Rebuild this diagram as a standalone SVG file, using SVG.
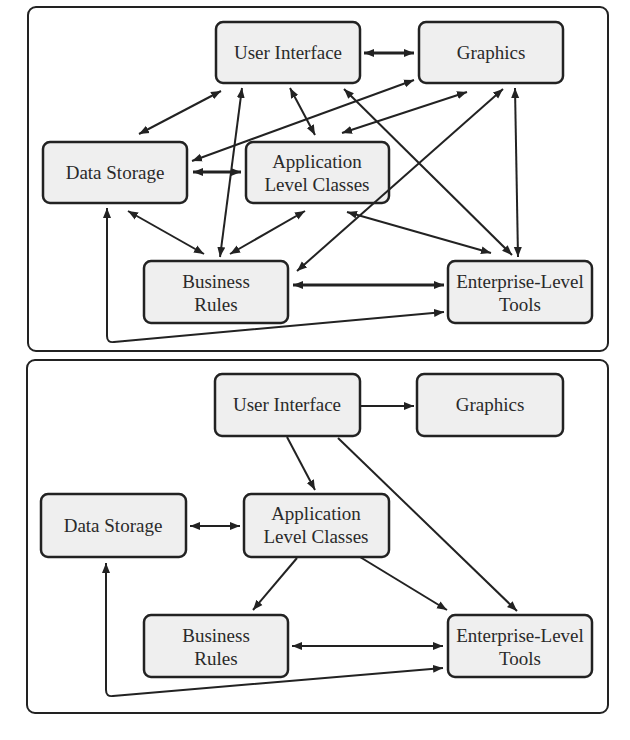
<svg xmlns="http://www.w3.org/2000/svg" width="630" height="740" viewBox="0 0 630 740">
<style>
.panel{fill:#fff;stroke:#222;stroke-width:2}
.node rect{fill:#efefef;stroke:#222;stroke-width:2.5}
.node text{font-family:"Liberation Serif","Times New Roman",serif;font-size:19px;fill:#2a2a2a;text-anchor:middle}
.c{fill:none;stroke:#222;stroke-width:2}
.t{stroke-width:3}
</style>
<defs>
<marker id="ah" markerUnits="userSpaceOnUse" markerWidth="11" markerHeight="9" refX="10" refY="4" orient="auto-start-reverse" viewBox="0 0 11 8">
<path d="M0,0 L10,4 L0,8 z" fill="#222"/>
</marker>
</defs>
<rect class="panel" x="28" y="7" width="580" height="344" rx="8"/>
<rect class="panel" x="27" y="360" width="581" height="353" rx="8"/>

<g id="top-ui" class="node"><rect x="216" y="22" width="144" height="61" rx="7"/><text x="288" y="59">User Interface</text></g>
<g id="top-graphics" class="node"><rect x="419" y="22" width="144" height="61" rx="7"/><text x="491" y="59">Graphics</text></g>
<g id="top-ds" class="node"><rect x="43" y="142" width="144" height="61" rx="7"/><text x="115" y="179">Data Storage</text></g>
<g id="top-app" class="node"><rect x="246" y="142" width="143" height="61" rx="7"/><text x="317" y="168">Application</text><text x="317" y="191">Level Classes</text></g>
<g id="top-br" class="node"><rect x="144" y="261" width="144" height="62" rx="7"/><text x="216" y="288">Business</text><text x="216" y="311">Rules</text></g>
<g id="top-elt" class="node"><rect x="448" y="261" width="144" height="62" rx="7"/><text x="520" y="288">Enterprise-Level</text><text x="520" y="311">Tools</text></g>

<g id="bot-ui" class="node"><rect x="215" y="374" width="145" height="62" rx="7"/><text x="287" y="411">User Interface</text></g>
<g id="bot-graphics" class="node"><rect x="417" y="374" width="146" height="62" rx="7"/><text x="490" y="411">Graphics</text></g>
<g id="bot-ds" class="node"><rect x="41" y="494" width="145" height="63" rx="7"/><text x="113" y="532">Data Storage</text></g>
<g id="bot-app" class="node"><rect x="244" y="494" width="145" height="63" rx="7"/><text x="316" y="520">Application</text><text x="316" y="543">Level Classes</text></g>
<g id="bot-br" class="node"><rect x="144" y="615" width="144" height="62" rx="7"/><text x="216" y="642">Business</text><text x="216" y="665">Rules</text></g>
<g id="bot-elt" class="node"><rect x="448" y="615" width="144" height="62" rx="7"/><text x="520" y="642">Enterprise-Level</text><text x="520" y="665">Tools</text></g>

<g id="connectors">
<path class="c t" marker-start="url(#ah)" marker-end="url(#ah)" d="M364,53 L414,53"/>
<path class="c" marker-start="url(#ah)" marker-end="url(#ah)" d="M221,91 L139,134"/>
<path class="c t" marker-start="url(#ah)" marker-end="url(#ah)" d="M193,172 L241,172"/>
<path class="c" marker-start="url(#ah)" marker-end="url(#ah)" d="M414,80 L192,161"/>
<path class="c" marker-start="url(#ah)" marker-end="url(#ah)" d="M467,92 L342,133"/>
<path class="c" marker-start="url(#ah)" marker-end="url(#ah)" d="M290,88 L315,135"/>
<path class="c" marker-start="url(#ah)" marker-end="url(#ah)" d="M242,88 L220,257"/>
<path class="c" marker-start="url(#ah)" marker-end="url(#ah)" d="M128,211 L204,254"/>
<path class="c" marker-start="url(#ah)" marker-end="url(#ah)" d="M305,211 L230,254"/>
<path class="c" marker-start="url(#ah)" marker-end="url(#ah)" d="M503,89 L297,271"/>
<path class="c" marker-start="url(#ah)" marker-end="url(#ah)" d="M344,89 L512,255"/>
<path class="c" marker-start="url(#ah)" marker-end="url(#ah)" d="M515,88 L518,257"/>
<path class="c" marker-start="url(#ah)" marker-end="url(#ah)" d="M347,212 L491,253"/>
<path class="c t" marker-start="url(#ah)" marker-end="url(#ah)" d="M293,285 L444,285"/>
<path class="c" marker-start="url(#ah)" marker-end="url(#ah)" d="M107,208 L107,336 Q107,343 114,342 L444,312"/>

<path class="c" marker-end="url(#ah)" d="M360,406 L414,406"/>
<path class="c" marker-end="url(#ah)" d="M287,437 L315,490"/>
<path class="c" marker-end="url(#ah)" d="M338,438 L517,611"/>
<path class="c" marker-start="url(#ah)" marker-end="url(#ah)" d="M190,526 L240,526"/>
<path class="c" marker-end="url(#ah)" d="M297,558 L253,610"/>
<path class="c" marker-end="url(#ah)" d="M360,557 L447,610"/>
<path class="c" marker-start="url(#ah)" marker-end="url(#ah)" d="M292,646 L443,646"/>
<path class="c" marker-start="url(#ah)" marker-end="url(#ah)" d="M106,563 L106,690 Q106,697 113,696 L443,668"/>
</g>
</svg>
